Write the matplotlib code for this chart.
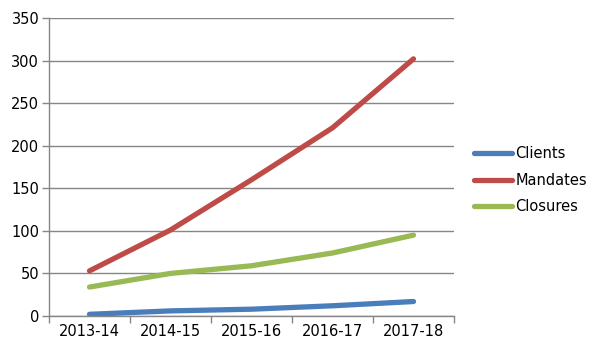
import matplotlib.pyplot as plt
import numpy as np

years = ['2013-14', '2014-15', '2015-16', '2016-17', '2017-18']
clients = [2, 6, 8, 12, 17]
mandates = [53, 101, 160, 221, 302]
closures = [34, 50, 59, 74, 95]

grey = '#868686'

fig = plt.figure(figsize=(6, 3.6), dpi=100)
ax = fig.add_axes([49 / 600, 1 - 316 / 360, 405 / 600, 298 / 360])

x = np.arange(len(years))
ax.plot(x, clients, color='#4a7ebb', lw=3.8, solid_capstyle='round', label='Clients')
ax.plot(x, mandates, color='#be4b48', lw=3.8, solid_capstyle='round', label='Mandates')
ax.plot(x, closures, color='#98b954', lw=3.8, solid_capstyle='round', label='Closures')

ax.set_xlim(-0.5, len(years) - 0.5)
ax.set_ylim(0, 350)
ax.set_yticks(range(0, 351, 50))
ax.set_xticks(x)
ax.set_xticklabels(years)
ax.set_xticks(np.arange(-0.5, len(years)), minor=True)
ax.tick_params(axis='x', which='major', length=0, pad=6)
ax.tick_params(axis='x', which='minor', length=5, color=grey, width=1)
ax.tick_params(axis='y', length=5, color=grey, width=1, pad=2)
ax.tick_params(labelsize=10.5, labelcolor='black')
ax.grid(axis='y', color=grey, lw=1)
ax.set_axisbelow(True)
for s in ['top', 'right']:
    ax.spines[s].set_visible(False)
for s in ['left', 'bottom']:
    ax.spines[s].set_color(grey)
    ax.spines[s].set_linewidth(1)

ax.legend(loc='center left', bbox_to_anchor=(1.018, 0.456), frameon=False,
          fontsize=10.5, handlelength=2.6, handletextpad=0.2, labelspacing=0.8)

fig.savefig('out.png', dpi=100)
